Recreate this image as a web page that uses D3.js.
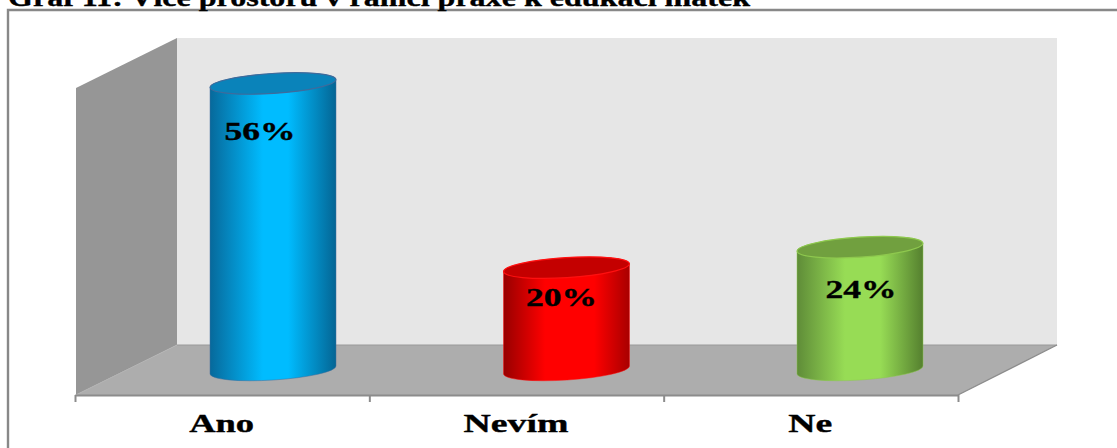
<!DOCTYPE html>
<html lang="cs">
<head>
<meta charset="utf-8">
<title>Graf 11</title>
<script src="https://cdn.jsdelivr.net/npm/d3@7"></script>
<style>
  html, body { margin: 0; padding: 0; background: #fff; overflow: hidden; }
  svg { display: block; }
  text { font-family: "Liberation Serif", serif; font-weight: bold; fill: #000; stroke: #000; stroke-width: 0.35; }
</style>
</head>
<body>
<script>
// Chart data
const titleText = "Graf 11: Více prostoru v rámci praxe k edukaci matek";
const categories = ["Ano", "Nevím", "Ne"];
const shares = [56, 20, 24];

// Cylinder colours: edge, centre, far edge, lid fill, lid outline
const palette = [
  ["#07699b", "#00bcff", "#046594", "#0a83ba", "#3f6b9c"],
  ["#970000", "#ff0000", "#a80000", "#c40000", "#ff1010"],
  ["#5f8c38", "#97dc55", "#55802f", "#71a03f", "#8ec84e"]
];
// Where the bright band of each cylinder starts and ends
const shineStart = [0.42, 0.33, 0.38];
const shineEnd = [0.62, 0.72, 0.66];
// Nudges of the value labels from the top of each cylinder
const labelNudgeX = [-13, -5, 1];
const labelNudgeY = [57, 38.5, 51];

const width = 1117, height = 448;
const depthX = 101, depthY = 50;          // floor depth of the 3D box
const axisLeft = 75, axisRight = 958, axisY = 395;
const wallHeight = 307;

const svg = d3.select("body").append("svg")
  .attr("width", width).attr("height", height);

const band = d3.scaleBand().domain(categories).range([axisLeft, axisRight]);
const tickScale = d3.scaleLinear().domain([0, categories.length]).range([axisLeft, axisRight]);
// Cylinder centres on the mid-depth plane of the box
const barX = d3.scalePoint().domain(categories).range([273, 860]);

// Value scale sits on the same plane, where the cylinders stand
const baseY = axisY - depthY / 2;
const y = d3.scaleLinear().domain([0, 60]).range([baseY, baseY - wallHeight]);
const barWidth = band.step() * 0.428;

const line = d3.line();
const backL = axisLeft + depthX + 1, backR = axisRight + depthX - 2;
const backBottom = axisY - depthY, backTop = backBottom - wallHeight;

// Box: back wall, side wall, floor
svg.append("path").attr("fill", "#e6e6e6")
  .attr("d", line([[backL, backTop], [backR, backTop], [backR, backBottom], [backL, backBottom]]) + "Z");
svg.append("path").attr("fill", "#969696")
  .attr("d", line([[axisLeft + 1, axisY], [axisLeft + 1, axisY - wallHeight], [backL, backTop], [backL, backBottom]]) + "Z");
svg.append("path").attr("fill", "#adadad")
  .attr("d", line([[axisLeft, axisY], [backL, backBottom], [backR, backBottom], [axisRight, axisY]]) + "Z");
svg.append("path").attr("fill", "none").attr("stroke", "#9a9a9a").attr("stroke-width", 1)
  .attr("d", line([[backL, backBottom], [backR, backBottom]]));
svg.append("path").attr("fill", "none").attr("stroke", "#8c8c8c").attr("stroke-width", 1.4)
  .attr("d", line([[axisRight, axisY], [backR, backBottom]]));
svg.append("path").attr("fill", "none").attr("stroke", "#b4b4b4").attr("stroke-width", 1)
  .attr("d", line([[axisLeft + 1, axisY], [backL, backBottom]]));

// Category axis: ticks fall on the band boundaries
const axis = d3.axisBottom(tickScale)
  .tickValues(d3.range(categories.length + 1))
  .tickSize(7).tickSizeOuter(0).tickFormat("");
const axisG = svg.append("g").attr("transform", `translate(0,${axisY})`).call(axis);
axisG.selectAll("path, line").attr("stroke", "#8c8c8c").attr("stroke-width", 2);

// Cylinder shading
const defs = svg.append("defs");
categories.forEach((c, i) => {
  const g = defs.append("linearGradient").attr("id", "cyl" + i)
    .attr("x1", "0%").attr("x2", "100%").attr("y1", "0%").attr("y2", "0%");
  [[0, palette[i][0]], [shineStart[i], palette[i][1]], [shineEnd[i], palette[i][1]], [1, palette[i][2]]]
    .forEach(([o, col]) => g.append("stop").attr("offset", o).attr("stop-color", col));
});

// Cylinders: the ellipses lean slightly, rising to the right
const lean = 4, ry = 10;
const rot = Math.atan2(-2 * lean, barWidth) * 180 / Math.PI;
const bars = svg.selectAll("g.bar").data(categories).join("g").attr("class", "bar");
bars.append("path")
  .attr("fill", (d, i) => `url(#cyl${i})`)
  .attr("stroke", (d, i) => palette[i][4]).attr("stroke-width", 0.8).attr("stroke-opacity", 0.6)
  .attr("d", (d, i) => {
    const cx = barX(d), r = barWidth / 2, t = y(shares[i]), b = y(0);
    const arc = `A${r} ${ry} ${rot} 0 0`;
    return `M${cx - r},${t + lean}L${cx - r},${b + lean}${arc} ${cx + r},${b - lean}L${cx + r},${t - lean}${arc} ${cx - r},${t + lean}Z`;
  });
bars.append("ellipse")
  .attr("rx", barWidth / 2).attr("ry", ry)
  .attr("transform", (d, i) => `translate(${barX(d)},${y(shares[i])}) rotate(${rot})`)
  .attr("fill", (d, i) => palette[i][3])
  .attr("stroke", (d, i) => palette[i][4]).attr("stroke-width", 1.2);

// Value labels
bars.append("text")
  .attr("x", (d, i) => barX(d) + labelNudgeX[i])
  .attr("y", (d, i) => y(shares[i]) + labelNudgeY[i])
  .attr("text-anchor", "middle").attr("font-size", 26)
  .attr("textLength", 71).attr("lengthAdjust", "spacingAndGlyphs")
  .text((d, i) => shares[i] + "%");

// Category labels, set wide
const labelWidths = { "Ano": 65, "Nevím": 105, "Ne": 44 };
svg.selectAll("text.cat").data(categories).join("text").attr("class", "cat")
  .attr("x", d => band(d) + band.bandwidth() / 2 - 0.5)
  .attr("y", 431.5).attr("text-anchor", "middle").attr("font-size", 25)
  .attr("textLength", d => labelWidths[d]).attr("lengthAdjust", "spacingAndGlyphs")
  .text(d => d);

// Frame (open at the right and the bottom) and the caption above it
svg.append("path").attr("fill", "none").attr("stroke", "#888").attr("stroke-width", 2.4)
  .attr("d", line([[8, height], [8, 10], [width, 10]]));
svg.append("text").attr("x", 8).attr("y", 6).attr("font-size", 25)
  .attr("textLength", 742).attr("lengthAdjust", "spacingAndGlyphs")
  .text(titleText);
</script>
</body>
</html>
